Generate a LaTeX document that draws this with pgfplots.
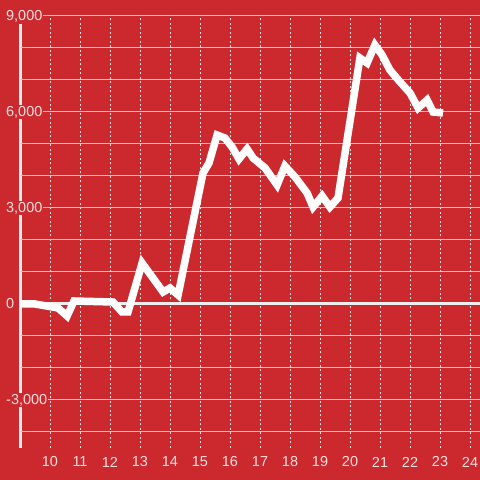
\documentclass[border=0pt]{standalone}
\usepackage{pgfplots}
\pgfplotsset{compat=1.18}
\usepackage{fontspec}
\setmainfont{Liberation Sans}
\definecolor{bgred}{RGB}{204,41,46}
\definecolor{gridgray}{RGB}{205,205,205}
\definecolor{dotgray}{RGB}{235,228,228}
\definecolor{labc}{RGB}{246,224,224}
\definecolor{axc}{RGB}{242,236,236}
\begin{document}
\begin{tikzpicture}
\fill[bgred] (0,0) rectangle (480bp,480bp);
\draw[line width=3bp, color=axc] (20bp,32bp) -- (20bp,456bp);
\begin{axis}[
  at={(20bp,32bp)}, anchor=south west,
  scale only axis, width=460bp, height=432bp,
  xmin=9, xmax=24.3333, ymin=-4500, ymax=9000,
  axis line style={draw=none},
  xtick={10,...,24},
  ytick={-3000,0,3000,6000,9000},
  minor ytick={-4000,-2000,-1000,1000,2000,4000,5000,7000,8000},
  major tick length=0pt, minor tick length=0pt,
  xmajorgrids, ymajorgrids, yminorgrids,
  x grid style={draw=dotgray, line width=1bp, dash pattern=on 2bp off 2.5bp},
  y grid style={draw=gridgray, line width=1bp},
  minor y grid style={draw=gridgray, line width=1bp},
  tick label style={font=\fontsize{14.5}{16}\selectfont, text=labc},
  xticklabel style={anchor=center, yshift=-14bp},
  yticklabel style={anchor=west, xshift=-15bp, fill=bgred, inner xsep=1bp, inner ysep=1bp},
  /pgf/number format/.cd, 1000 sep={,}, assume math mode=true,
]
\draw[line width=3bp, color=axc] (axis cs:9,0) -- (axis cs:24.3333,0);
\addplot[white, line width=7.5bp, mark=none] coordinates {
(9.0,0) (9.5,0) (10.27,-125) (10.57,-375) (10.8,94) (12.1,62) (12.4,-250) (12.6,-250)
(13.07,1280) (13.77,375) (14.0,500) (14.27,281) (15.1,4094) (15.3,4406) (15.57,5281)
(15.83,5188) (16.07,4906) (16.3,4531) (16.57,4844) (16.77,4562) (17.17,4250) (17.57,3719)
(17.83,4312) (18.17,3969) (18.57,3469) (18.77,3031) (19.07,3375) (19.33,3031) (19.6,3312)
(20.33,7688) (20.57,7531) (20.83,8094) (21.07,7781) (21.33,7312) (21.67,6937) (22.0,6594)
(22.27,6125) (22.57,6375) (22.77,6000) (23.1,5969)
};
\end{axis}
\pgfresetboundingbox
\useasboundingbox (0,0) rectangle (480bp,480bp);
\end{tikzpicture}
\end{document}
